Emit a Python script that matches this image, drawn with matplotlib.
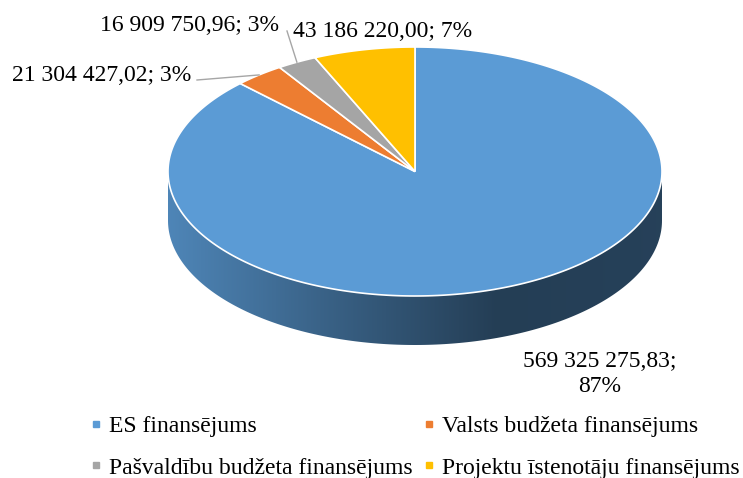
import numpy as np
import matplotlib.pyplot as plt
from matplotlib.patches import Polygon
from matplotlib.lines import Line2D
from matplotlib.colors import LinearSegmentedColormap, to_rgb

plt.rcParams['font.family'] = ['Liberation Serif', 'DejaVu Serif']

# data
categories = ["ES finansējums", "Valsts budžeta finansējums",
              "Pašvaldību budžeta finansējums", "Projektu īstenotāju finansējums"]
values = [569325275.83, 21304427.02, 16909750.96, 43186220.00]
colors = ["#5B9BD5", "#ED7D31", "#A5A5A5", "#FFC000"]

W, H = 743, 478
fig = plt.figure(figsize=(W / 100, H / 100), dpi=100)
ax = fig.add_axes([0, 0, 1, 1])
ax.set_xlim(0, W)
ax.set_ylim(H, 0)
ax.axis('off')

# pie geometry (ellipse in pixel-like units)
cx, cy, rx, ry, depth = 415, 171.5, 247, 124.5, 49


def ell(t, dy=0.0):
    t = np.radians(t)
    return np.column_stack([cx + rx * np.cos(t), cy - ry * np.sin(t) + dy])


def fmt(v):
    whole, dec = f"{v:,.2f}".split(".")
    return whole.replace(",", " ") + "," + dec


fracs = np.array(values) / sum(values)
spans = []
start = 90.0
for f in fracs:
    end = start - f * 360
    spans.append((end, start))
    start = end

# side walls (only the front half is visible)
for (a, b), c in zip(spans, colors):
    for lo, hi in [(-180, 0), (-540, -360), (180, 360)]:
        s, e = max(a, lo), min(b, hi)
        if e <= s:
            continue
        t = np.linspace(s, e, 200)
        pts = np.vstack([ell(t), ell(t[::-1], depth)])
        poly = Polygon(pts, closed=True, facecolor='none', edgecolor='none', zorder=1)
        ax.add_patch(poly)
        base = np.array(to_rgb(c))
        cmap = LinearSegmentedColormap.from_list(
            'side', [base * 0.86, base * 0.62, base * 0.40, base * 0.42])
        grad = np.linspace(0, 1, 256).reshape(1, -1)
        im = ax.imshow(grad, cmap=cmap, aspect='auto', zorder=1,
                       extent=[cx - rx, cx + rx, cy + ry + depth, cy - ry])
        im.set_clip_path(poly)

# top faces
for (a, b), c in zip(spans, colors):
    t = np.linspace(a, b, 300)
    pts = np.vstack([[cx, cy], ell(t)])
    ax.add_patch(Polygon(pts, closed=True, facecolor=c, edgecolor='white',
                         linewidth=1.2, zorder=2))

# data labels
fs = 17
pcts = [f"{round(f * 100):.0f}%" for f in fracs]
labels = [f"{fmt(v)}; {p}" for v, p in zip(values, pcts)]
mids = [ell((a + b) / 2)[0] for a, b in spans]

ax.text(600, 374, f"{fmt(values[0])};\n{pcts[0]}", ha='center', va='center',
        fontsize=fs, linespacing=1.24)
ax.text(191, 81, labels[1], ha='right', va='baseline', fontsize=fs)
ax.text(279, 31, labels[2], ha='right', va='baseline', fontsize=fs)
ax.text(293, 37, labels[3], ha='left', va='baseline', fontsize=fs)

# leader lines
ax.plot([197, mids[1][0]], [80, mids[1][1]], color='#A6A6A6', lw=1, zorder=3)
ax.plot([287, mids[2][0]], [31, mids[2][1]], color='#A6A6A6', lw=1, zorder=3)

# legend (row-major order like the original)
handles = [Line2D([], [], marker='s', linestyle='none', markersize=4.5,
                  markerfacecolor=c, markeredgecolor=c) for c in colors]
order = [0, 2, 1, 3]
fig.legend([handles[i] for i in order], [categories[i] for i in order],
           ncol=2, loc='lower left',
           bbox_to_anchor=(78 / W, -0.026), frameon=False, fontsize=fs,
           handlelength=0.5, handletextpad=0.32, columnspacing=0.42,
           labelspacing=0.85, borderpad=0)

fig.savefig("out.png", dpi=100)
